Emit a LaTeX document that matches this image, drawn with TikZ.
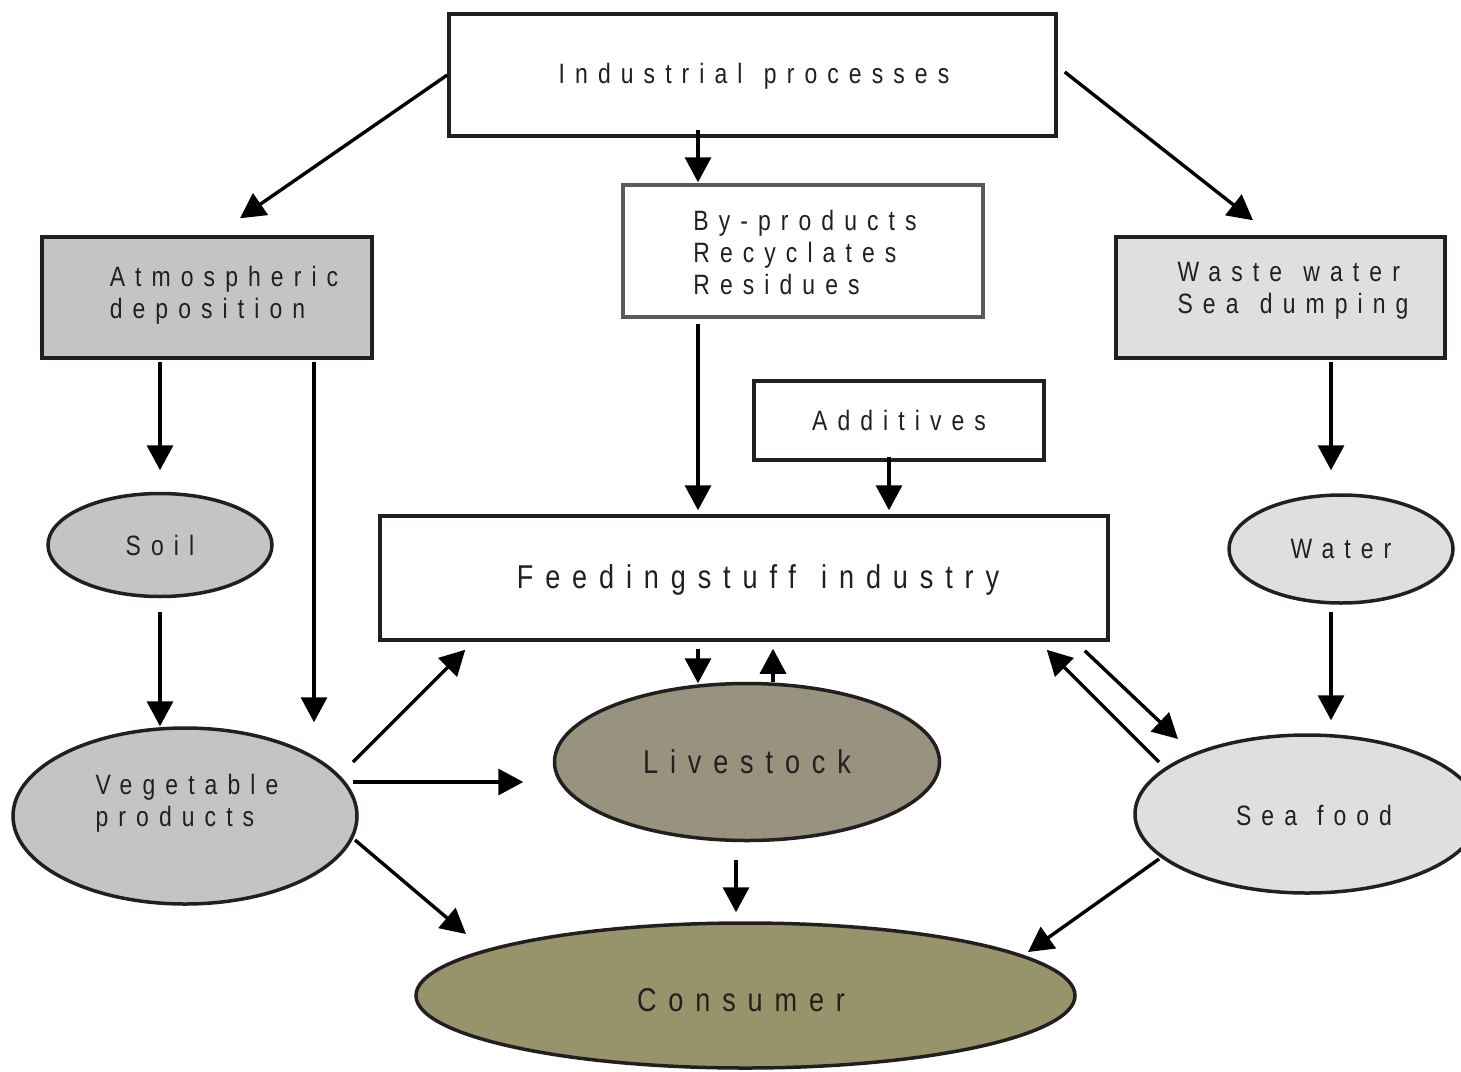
\documentclass[tikz,border=0pt]{standalone}
\usepackage{fontspec}
\setmainfont{Liberation Sans}
\newfontfamily\dfont[FakeStretch=0.82,LetterSpace=36,WordSpace=1.3]{Liberation Sans}
\usetikzlibrary{arrows.meta,calc,shapes.geometric}
\definecolor{edge}{HTML}{231F20}
\definecolor{txt}{HTML}{231F20}
\definecolor{bord}{HTML}{5A5A5A}
\definecolor{atmgray}{HTML}{C4C4C3}
\definecolor{lightg}{HTML}{DFDFDE}
\definecolor{livec}{HTML}{97937F}
\definecolor{consc}{HTML}{97946C}
\begin{document}
\begin{tikzpicture}[x=0.5pt,y=-0.5pt,
  every node/.style={inner sep=0pt, text=txt},
  rbox/.style={draw=edge, line width=1.75pt, rectangle},
  ell/.style={draw=edge, line width=1.75pt, ellipse},
  arr/.style={line width=1.7pt, -{Triangle[length=12.5pt,width=13pt]}},
  lab/.style={font=\dfont\fontsize{14pt}{16pt}\selectfont, align=left},
  big/.style={font=\dfont\fontsize{16.5pt}{18pt}\selectfont, align=center}]
\useasboundingbox (0,0) rectangle (1461,1071);
\fill[white] (0,0) rectangle (1461,1071);
% nodes
\node[rbox, fill=white, minimum width=303.5pt, minimum height=61pt] (ind) at (752.5,75) {};
\node[lab] (indT) at (754,76) {Industrial processes};
\node[rbox, draw=bord, fill=white, minimum width=180pt, minimum height=66pt] (byp) at (803,251) {};
\node[lab] (bypT) at (805,252) {By-products\\Recyclates\\Residues};
\node[rbox, fill=atmgray, minimum width=165pt, minimum height=60.5pt] (atm) at (207,297.5) {};
\node[lab] (atmT) at (224,295) {Atmospheric\\deposition};
\node[rbox, fill=lightg, minimum width=164.5pt, minimum height=60.5pt] (waste) at (1280.5,297.5) {};
\node[lab] (wasteT) at (1293,291) {Waste water\\Sea dumping};
\node[rbox, fill=white, minimum width=145pt, minimum height=39.5pt] (add) at (899,420.5) {};
\node[lab] (addT) at (899,420) {Additives};
\node[rbox, fill=white, minimum width=364pt, minimum height=62pt] (feed) at (744,578) {};
\node[big] (feedT) at (758,580) {Feedingstuff industry};
\node[ell, fill=atmgray, minimum width=112pt, minimum height=51.5pt, lab] (soil) at (160,545) {Soil};
\node[ell, fill=lightg, minimum width=112pt, minimum height=54pt, lab] (water) at (1341,549) {Water};
\node[ell, fill=atmgray, minimum width=172pt, minimum height=88pt] (veg) at (185,816) {};
\node[lab] (vegT) at (187,803) {Vegetable\\products};
\node[ell, fill=livec, minimum width=192.5pt, minimum height=78.5pt, big] (live) at (747,762) {Livestock};
\node[ell, fill=lightg, minimum width=172pt, minimum height=79pt] (sea) at (1307,814) {};
\node[lab] (seaT) at (1314,815) {Sea\hspace{10pt}food};
\node[ell, fill=consc, minimum width=329.5pt, minimum height=72.5pt, big] (cons) at (745.5,995.5) {};
\node[big] (consT) at (741,1000) {Consumer};
% connectors
\draw[arr] (ind.west) -- ($(atm.north)+(33,-17)$);
\draw[arr] ($(ind.east)+(7,-3)$) -- ($(waste.north)+(-27.5,-15)$);
\draw[arr] ($(ind.south)+(-54.5,-8)$) -- ($(byp.north)+(-105,-1)$);
\draw[arr] ($(atm.south)+(-47,2)$) -- ($(soil.north)+(0,-21.5)$);
\draw[arr] ($(atm.south)+(107,2)$) -- ($(veg.north)+(129,-4)$);
\draw[arr] ($(soil.south)+(0,14)$) -- ($(veg.north)+(-25,0)$);
\draw[arr] ($(byp.south)+(-105,5)$) -- ($(feed.north)+(-46,-4)$);
\draw[arr] ($(add.south)+(-10,-5)$) -- ($(feed.north)+(145,-4)$);
\draw[arr] ($(waste.south)+(50.5,2)$) -- ($(water.north)+(-10,-23)$);
\draw[arr] ($(water.south)+(-10,7)$) -- ($(sea.north)+(24,-13)$);
\draw[arr] ($(feed.south)+(-46,7)$) -- ($(live.north)+(-49,1.5)$);
\draw[arr] ($(live.north)+(26,0)$) -- ($(feed.south)+(29,7)$);
\draw[arr] ($(veg.center)+(168,-54)$) -- ($(feed.south west)+(87,8)$);
\draw[arr] ($(veg.center)+(168,-34)$) -- ($(live.west)+(-29.5,20)$);
\draw[arr] ($(veg.center)+(170,24)$) -- ($(cons.center)+(-279.5,-61.5)$);
\draw[arr] ($(live.south)+(-11,17.5)$) -- ($(cons.north)+(-9.5,-9)$);
\draw[arr] ($(feed.south east)+(-25,9)$) -- ($(sea.center)+(-129,-75)$);
\draw[arr] ($(sea.center)+(-148,-52)$) -- ($(feed.south east)+(-63,8)$);
\draw[arr] ($(sea.center)+(-148,45)$) -- ($(cons.center)+(282.5,-43.5)$);
\end{tikzpicture}
\end{document}
